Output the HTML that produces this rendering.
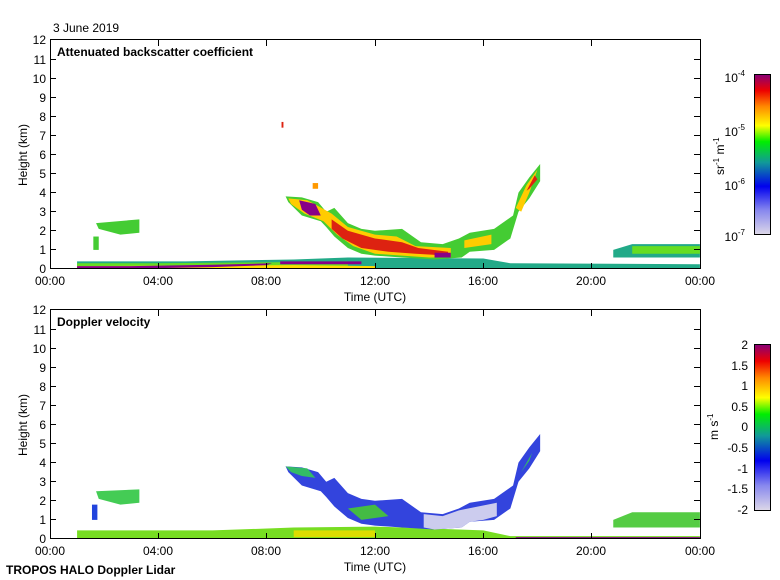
<!DOCTYPE html>
<html><head><meta charset="utf-8"><style>
body{margin:0;background:#fff;}
svg{display:block;font-family:"Liberation Sans",sans-serif;}
</style></head><body>
<svg width="780" height="580" viewBox="0 0 780 580" xmlns="http://www.w3.org/2000/svg">
<defs>
<linearGradient id="cb1" x1="0" y1="1" x2="0" y2="0">
<stop offset="0" stop-color="#ddd8e8"/><stop offset="0.15" stop-color="#8888ee"/><stop offset="0.3" stop-color="#0000ee"/><stop offset="0.45" stop-color="#119999"/><stop offset="0.58" stop-color="#00ee00"/><stop offset="0.68" stop-color="#ffff00"/><stop offset="0.8" stop-color="#ff8800"/><stop offset="0.9" stop-color="#ee0000"/><stop offset="1" stop-color="#880077"/>
</linearGradient>
<polygon id="plume" points="8.7,3.8 9.3,3.75 9.9,3.5 10.2,3.0 10.5,3.2 11,2.4 11.5,2.1 12,2.0 13,2.1 13.7,1.4 14.5,1.3 15.1,1.6 15.5,1.9 16.4,2.1 16.7,2.4 17.1,2.8 17.3,4.0 17.7,4.8 18.1,5.5 18.1,4.6 17.7,3.7 17.3,3.0 17.0,1.6 16.4,1.0 15.5,0.9 15.2,0.6 14.2,0.5 13,0.6 12,0.7 11.5,0.8 11,1.1 10.5,1.7 10.2,2.2 10,2.5 9.3,2.8 8.8,3.5"/>
</defs>
<text x="53" y="32" font-size="12">3 June 2019</text>
<text x="6" y="574" font-size="12" font-weight="bold">TROPOS HALO Doppler Lidar</text>

<!-- TOP PANEL DATA -->
<g transform="translate(50,269) scale(27.08,-19.1)">
<polygon fill="#22aa88" points="1,0 24,0 24,0.25 17,0.3 16,0.55 11,0.6 9,0.5 5,0.4 1,0.4"/>
<polygon fill="#66dd22" points="1,0 11,0 11,0.4 8,0.35 4,0.3 1,0.3"/>
<polygon fill="#ffdd00" points="1,0 12,0 12,0.15 9,0.2 5,0.18 1,0.15"/>
<polygon fill="#880088" points="1,0.02 3,0.02 6,0.1 8,0.2 8.2,0.3 6,0.22 3,0.15 1,0.15"/>
<polygon fill="#880088" points="8.5,0.25 11.5,0.25 11.5,0.4 8.5,0.4"/>
<polygon fill="#44cc33" points="1.7,2.4 3.3,2.6 3.3,1.9 2.6,1.8 1.8,2.1"/>
<polygon fill="#44cc33" points="1.6,1.0 1.8,1.0 1.8,1.7 1.6,1.7"/>
<polygon fill="#22aa88" points="20.8,0.6 24,0.6 24,1.3 21.5,1.3 20.8,1.0"/>
<polygon fill="#66dd22" points="21.5,0.8 24,0.8 24,1.2 21.5,1.2"/>
<use href="#plume" fill="#44cc33"/>
<polygon fill="#ffcc00" points="8.8,3.7 9.5,3.6 9.9,3.3 10.4,2.9 11,2.2 12,1.8 12.8,1.7 13.5,1.2 14.8,1.1 14.8,0.6 14,0.6 13,0.7 12,0.8 11.2,1.2 10.6,1.8 10.1,2.5 9.4,2.9 8.9,3.4"/>
<polygon fill="#dd2211" points="10.4,2.6 11,2.0 12,1.6 13,1.4 13.6,1.1 14.7,0.9 14.7,0.7 13.5,0.8 12.5,0.9 11.5,1.1 10.8,1.6 10.4,2.1"/>
<polygon fill="#880088" points="9.2,3.6 9.8,3.4 10.0,2.8 9.6,2.8 9.3,3.1"/>
<polygon fill="#880088" points="14.2,0.6 14.8,0.6 14.8,0.85 14.2,0.85"/>
<polygon fill="#ffcc00" points="15.3,1.5 16.3,1.8 16.3,1.3 15.3,1.1"/>
<polygon fill="#ffcc00" points="17.2,3.2 17.6,4.4 18,5.2 17.7,4.0 17.4,3.0"/>
<polygon fill="#dd2211" points="17.6,4.1 17.9,4.9 18,4.7 17.7,4.2"/>
<polygon fill="#ff9900" points="9.7,4.5 9.9,4.5 9.9,4.2 9.7,4.2"/>
<polygon fill="#dd2211" points="8.55,7.7 8.62,7.7 8.62,7.4 8.55,7.4"/>
</g>

<!-- BOTTOM PANEL DATA -->
<g transform="translate(50,539) scale(27.08,-19.1)">
<polygon fill="#77dd22" points="1,0 24,0 24,0.15 17,0.15 16,0.45 12,0.65 9,0.6 6,0.45 1,0.45"/>
<polygon fill="#dddd00" points="9,0.1 12,0.1 12,0.45 9,0.45"/>
<polygon fill="#880088" points="17.2,0 24,0 24,0.1 17.2,0.1"/>
<polygon fill="#44cc55" points="1.7,2.5 3.3,2.6 3.3,1.9 2.6,1.8 1.8,2.1"/>
<polygon fill="#2244dd" points="1.55,1.0 1.75,1.0 1.75,1.8 1.55,1.8"/>
<polygon fill="#55cc44" points="20.8,0.6 24,0.6 24,1.4 21.5,1.4 20.8,1.0"/>
<use href="#plume" fill="#3344dd"/>
<polygon fill="#ccccee" points="13.8,1.3 14.5,1.2 15.1,1.5 16.5,1.9 16.5,1.2 16,1.0 15.5,0.9 15.2,0.6 14.2,0.5 13.8,0.6"/>
<polygon fill="#33bb66" points="8.7,3.8 9.5,3.7 9.8,3.2 9.3,3.3 8.9,3.5"/>
<polygon fill="#33bb66" points="17.4,3.5 17.8,4.5 18,5.3 17.7,4.1"/>
<polygon fill="#44bb44" points="11,1.6 12,1.8 12.5,1.2 11.5,1.0"/>
</g>

<!-- AXES -->
<g fill="none" stroke="#000" stroke-width="1">
<rect x="50.5" y="39.5" width="650" height="229"/>
<rect x="50.5" y="309.5" width="650" height="229"/>
</g>
<g stroke="#000" stroke-width="1">
<path d="M158.5,269v-6M266.5,269v-6M375.5,269v-6M483.5,269v-6M591.5,269v-6M158.5,40v6M266.5,40v6M375.5,40v6M483.5,40v6M591.5,40v6"/>
<path d="M158.5,539v-6M266.5,539v-6M375.5,539v-6M483.5,539v-6M591.5,539v-6M158.5,310v6M266.5,310v6M375.5,310v6M483.5,310v6M591.5,310v6"/>
<path d="M50,249.5h6M50,230.5h6M50,211.5h6M50,192.5h6M50,173.5h6M50,154.5h6M50,135.5h6M50,116.5h6M50,97.5h6M50,78.5h6M50,59.5h6M700,249.5h-6M700,230.5h-6M700,211.5h-6M700,192.5h-6M700,173.5h-6M700,154.5h-6M700,135.5h-6M700,116.5h-6M700,97.5h-6M700,78.5h-6M700,59.5h-6"/>
<path d="M50,519.5h6M50,500.5h6M50,481.5h6M50,462.5h6M50,443.5h6M50,424.5h6M50,405.5h6M50,386.5h6M50,367.5h6M50,348.5h6M50,329.5h6M700,519.5h-6M700,500.5h-6M700,481.5h-6M700,462.5h-6M700,443.5h-6M700,424.5h-6M700,405.5h-6M700,386.5h-6M700,367.5h-6M700,348.5h-6M700,329.5h-6"/>
</g>
<g font-size="12" text-anchor="end">
<text x="46" y="273">0</text><text x="46" y="254">1</text><text x="46" y="235">2</text><text x="46" y="216">3</text><text x="46" y="197">4</text><text x="46" y="178">5</text><text x="46" y="159">6</text><text x="46" y="140">7</text><text x="46" y="121">8</text><text x="46" y="102">9</text><text x="46" y="83">10</text><text x="46" y="64">11</text><text x="46" y="44">12</text>
<text x="46" y="543">0</text><text x="46" y="524">1</text><text x="46" y="505">2</text><text x="46" y="486">3</text><text x="46" y="467">4</text><text x="46" y="448">5</text><text x="46" y="429">6</text><text x="46" y="410">7</text><text x="46" y="391">8</text><text x="46" y="372">9</text><text x="46" y="353">10</text><text x="46" y="334">11</text><text x="46" y="314">12</text>
</g>
<g font-size="12" text-anchor="middle">
<text x="50" y="285">00:00</text><text x="158" y="285">04:00</text><text x="266" y="285">08:00</text><text x="375" y="285">12:00</text><text x="483" y="285">16:00</text><text x="591" y="285">20:00</text><text x="700" y="285">00:00</text>
<text x="375" y="301">Time (UTC)</text>
<text x="50" y="555">00:00</text><text x="158" y="555">04:00</text><text x="266" y="555">08:00</text><text x="375" y="555">12:00</text><text x="483" y="555">16:00</text><text x="591" y="555">20:00</text><text x="700" y="555">00:00</text>
<text x="375" y="571">Time (UTC)</text>
<text transform="translate(27,155) rotate(-90)">Height (km)</text>
<text transform="translate(27,425) rotate(-90)">Height (km)</text>
</g>
<text x="57" y="56" font-size="12" font-weight="bold">Attenuated backscatter coefficient</text>
<text x="57" y="326" font-size="12" font-weight="bold">Doppler velocity</text>

<!-- COLORBARS -->
<rect x="754.5" y="74.5" width="16" height="160" fill="url(#cb1)" stroke="#000"/>
<rect x="754.5" y="344.5" width="16" height="166" fill="url(#cb1)" stroke="#000"/>
<g font-size="12" text-anchor="end">
<text x="745" y="82">10<tspan font-size="8" dy="-6">-4</tspan></text>
<text x="745" y="136">10<tspan font-size="8" dy="-6">-5</tspan></text>
<text x="745" y="190">10<tspan font-size="8" dy="-6">-6</tspan></text>
<text x="745" y="241">10<tspan font-size="8" dy="-6">-7</tspan></text>
<text x="748" y="349">2</text><text x="748" y="370">1.5</text><text x="748" y="390">1</text><text x="748" y="411">0.5</text><text x="748" y="431">0</text><text x="748" y="452">-0.5</text><text x="748" y="473">-1</text><text x="748" y="493">-1.5</text><text x="748" y="514">-2</text>
</g>
<text transform="translate(724,175) rotate(-90)" font-size="12">sr<tspan font-size="8" dy="-5">-1</tspan><tspan dy="5"> m</tspan><tspan font-size="8" dy="-5">-1</tspan></text>
<text transform="translate(718,440) rotate(-90)" font-size="12">m s<tspan font-size="8" dy="-5">-1</tspan></text>
</svg>
</body></html>
